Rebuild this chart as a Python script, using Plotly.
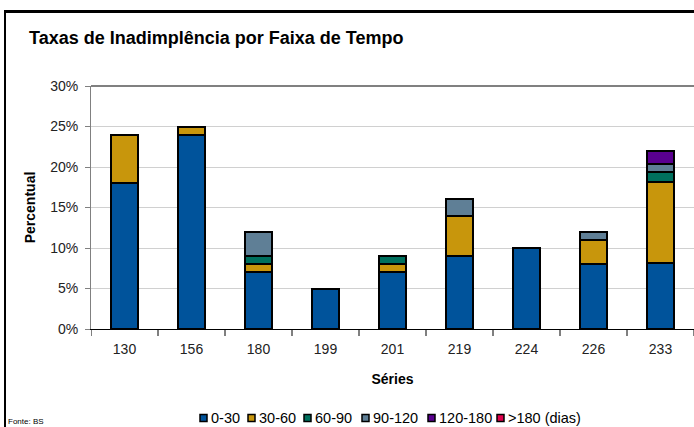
import plotly.graph_objects as go

series = ["130", "156", "180", "199", "201", "219", "224", "226", "233"]
faixas = ["0-30", "30-60", "60-90", "90-120", "120-180", ">180 (dias)"]
v_0_30 = [18, 24, 7, 5, 7, 9, 10, 8, 8.2]
v_30_60 = [6, 1, 1, 0, 1, 5, 0, 3, 9.9]
v_60_90 = [0, 0, 1, 0, 1, 0, 0, 0, 1.3]
v_90_120 = [0, 0, 3, 0, 0, 2, 0, 1, 1.0]
v_120_180 = [0, 0, 0, 0, 0, 0, 0, 0, 1.6]
v_180 = [0, 0, 0, 0, 0, 0, 0, 0, 0]
values = [v_0_30, v_30_60, v_60_90, v_90_120, v_120_180, v_180]
colors = ["#00539B", "#C8960C", "#00705E", "#5F7F96", "#5A0090", "#E0004C"]

# legend item left positions (pixels), layout only
legend_x = [200, 248, 304, 362, 428, 497]

W, H = 694, 427
L, R, T, B = 91, 0, 86, 98
pw, ph = W - L - R, H - T - B

fig = go.Figure()
for name, vals, col in zip(faixas, values, colors):
    fig.add_trace(go.Bar(
        x=series, y=[v / 100 for v in vals], name=name,
        marker=dict(color=col, line=dict(color="#000000", width=2)),
        width=0.4,
    ))

def px(x):
    return (x - L) / pw

def py(y):
    return (H - B - y) / ph

fig.update_layout(
    width=W, height=H,
    margin=dict(l=L, r=R, t=T, b=B, autoexpand=False),
    barmode="stack",
    paper_bgcolor="white", plot_bgcolor="white",
    font=dict(family="Liberation Sans, Arial, sans-serif", color="#000000"),
    showlegend=False,
    xaxis=dict(
        range=[-0.5, 8.5], showline=True, linecolor="#000000", linewidth=1,
        ticks="", showgrid=False, tickfont=dict(size=14, color="#222222"),
        ticklabelstandoff=7,
        title=dict(text="<b>Séries</b>", font=dict(size=14), standoff=18),
    ),
    yaxis=dict(
        range=[0, 0.30], dtick=0.05, tickformat=".0%",
        showgrid=True, gridcolor="#D0D0D0", gridwidth=1,
        showline=True, linecolor="#808080", linewidth=1,
        ticks="outside", ticklen=5, tickcolor="#808080",
        tickfont=dict(size=14, color="#222222"),
        ticklabelstandoff=4,
        title=dict(text="<b>Percentual</b>", font=dict(size=14), standoff=11),
        zeroline=False,
    ),
)

shapes = []
# category separator ticks on x axis
for i in range(10):
    xv = i - 0.5
    shapes.append(dict(type="line", xref="x", yref="paper", x0=xv, x1=xv,
                       y0=0, y1=py(336), line=dict(color="#000000", width=1)))
# plot area top border
shapes.append(dict(type="line", xref="paper", yref="paper", x0=0, x1=1, y0=1, y1=1,
                   line=dict(color="#808080", width=2)))
# outer frame (top and left)
shapes.append(dict(type="line", xref="paper", yref="paper", x0=px(4), x1=px(700),
                   y0=py(11.5), y1=py(11.5), line=dict(color="#000000", width=3)))
shapes.append(dict(type="line", xref="paper", yref="paper", x0=px(5), x1=px(5),
                   y0=py(10), y1=py(440), line=dict(color="#000000", width=2)))

# custom compact legend
ly = 418
for name, col, lx in zip(faixas, colors, legend_x):
    shapes.append(dict(type="rect", xref="paper", yref="paper",
                       x0=px(lx), x1=px(lx + 7), y0=py(ly + 3.5), y1=py(ly - 3.5),
                       fillcolor=col, line=dict(color="#000000", width=1.5)))
    fig.add_annotation(text=name, xref="paper", yref="paper", x=px(lx + 9), y=py(ly),
                       xanchor="left", yanchor="middle", showarrow=False,
                       font=dict(size=14.5, color="#000000"))
fig.update_layout(shapes=shapes)

fig.add_annotation(text="<b>Taxas de Inadimplência por Faixa de Tempo</b>",
                   xref="paper", yref="paper", x=px(27), y=py(38),
                   xanchor="left", yanchor="middle", showarrow=False,
                   font=dict(size=18, color="#000000"))
fig.add_annotation(text="Fonte: BS", xref="paper", yref="paper", x=px(6), y=py(421),
                   xanchor="left", yanchor="middle", showarrow=False,
                   font=dict(size=8, color="#000000"))

fig.write_html("out.html", config={"displayModeBar": False},
               post_script="document.body.style.margin='0';document.body.style.overflow='hidden';")
